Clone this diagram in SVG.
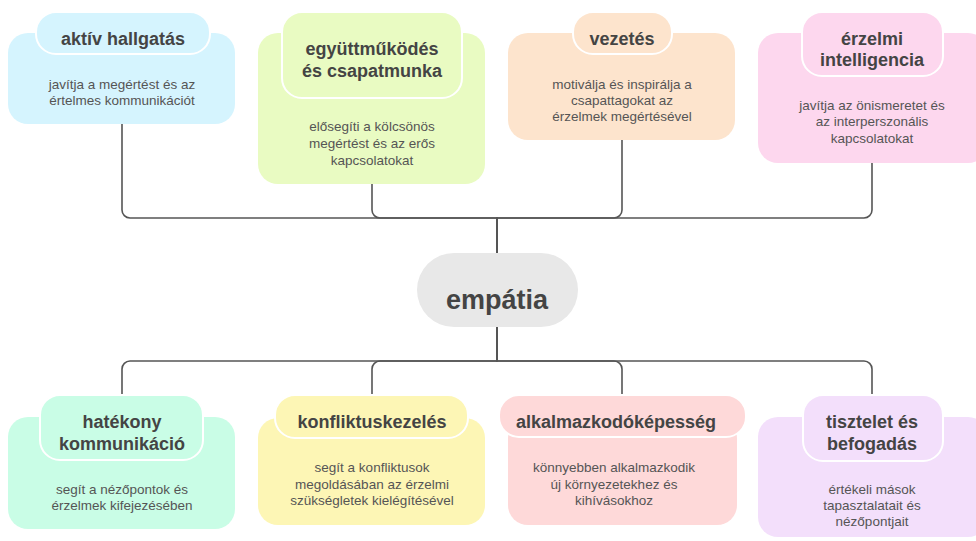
<svg xmlns="http://www.w3.org/2000/svg" width="976" height="541" viewBox="0 0 976 541">
<style>
.t{font-family:"Liberation Sans",Arial,sans-serif;font-weight:700;font-size:18px;fill:#444;text-anchor:middle}
.b{font-family:"Liberation Sans",Arial,sans-serif;font-size:13.5px;fill:#555;text-anchor:middle}
.c{font-family:"Liberation Sans",Arial,sans-serif;font-weight:700;font-size:27px;fill:#444;text-anchor:middle}
.p{stroke:#fff;stroke-width:2}
.ln{fill:none;stroke:#555;stroke-width:1.6}
</style>
<rect width="976" height="541" fill="#fff"/>
<g id="connectors">
<path class="ln" d="M497,253 V218 H130 A8,8 0 0 1 122,210 V124"/>
<path class="ln" d="M497,253 V218 H380 A8,8 0 0 1 372,210 V184"/>
<path class="ln" d="M497,253 V218 H614 A8,8 0 0 0 622,210 V140"/>
<path class="ln" d="M497,253 V218 H864 A8,8 0 0 0 872,210 V163"/>
<path class="ln" d="M497,327 V361 H130 A8,8 0 0 0 122,369 V396"/>
<path class="ln" d="M497,327 V361 H380 A8,8 0 0 0 372,369 V396"/>
<path class="ln" d="M497,327 V361 H614 A8,8 0 0 1 622,369 V396"/>
<path class="ln" d="M497,327 V361 H864 A8,8 0 0 1 872,369 V396"/>
</g>
<g id="center">
<rect x="417" y="253" width="161" height="74" rx="37" fill="#e8e8e8"/>
<text class="c" x="497" y="309">empátia</text>
</g>
<g id="aktiv-hallgatas">
<rect x="8" y="33" width="227" height="91" rx="20" fill="#d5f4fe"/>
<rect class="p" x="36" y="12" width="174" height="42" rx="20" fill="#d5f4fe"/>
<text class="t" x="123" y="45">aktív hallgatás</text>
<text class="b" x="122" y="89">javítja a megértést és az</text>
<text class="b" x="122" y="105">értelmes kommunikációt</text>
</g>
<g id="egyuttmukodes">
<rect x="258" y="33" width="227" height="151" rx="20" fill="#e9fbc2"/>
<rect class="p" x="282" y="12" width="180" height="86" rx="20" fill="#e9fbc2"/>
<text class="t" x="372" y="55">együttműködés</text>
<text class="t" x="372" y="77">és csapatmunka</text>
<text class="b" x="372" y="131">elősegíti a kölcsönös</text>
<text class="b" x="372" y="148">megértést és az erős</text>
<text class="b" x="372" y="165">kapcsolatokat</text>
</g>
<g id="vezetes">
<rect x="508" y="33" width="227" height="107" rx="20" fill="#fde4cd"/>
<rect class="p" x="573" y="12" width="99" height="42" rx="20" fill="#fde4cd"/>
<text class="t" x="622" y="45">vezetés</text>
<text class="b" x="622" y="89">motiválja és inspirálja a</text>
<text class="b" x="622" y="105">csapattagokat az</text>
<text class="b" x="622" y="121">érzelmek megértésével</text>
</g>
<g id="erzelmi-intelligencia">
<rect x="758" y="33" width="230" height="130" rx="20" fill="#fdd7ee"/>
<rect class="p" x="802" y="12" width="141" height="64" rx="20" fill="#fdd7ee"/>
<text class="t" x="872" y="45">érzelmi</text>
<text class="t" x="872" y="66">intelligencia</text>
<text class="b" x="872" y="110">javítja az önismeretet és</text>
<text class="b" x="872" y="126">az interperszonális</text>
<text class="b" x="872" y="143">kapcsolatokat</text>
</g>
<g id="hatekony-kommunikacio">
<rect x="8" y="417" width="227" height="112" rx="20" fill="#c9fde6"/>
<rect class="p" x="40" y="395" width="163" height="65" rx="20" fill="#c9fde6"/>
<text class="t" x="122" y="428">hatékony</text>
<text class="t" x="122" y="450">kommunikáció</text>
<text class="b" x="122" y="494">segít a nézőpontok és</text>
<text class="b" x="122" y="510">érzelmek kifejezésében</text>
</g>
<g id="konfliktuskezeles">
<rect x="258" y="418" width="227" height="107" rx="20" fill="#fdf6b5"/>
<rect class="p" x="275" y="395" width="193" height="43" rx="20" fill="#fdf6b5"/>
<text class="t" x="372" y="428">konfliktuskezelés</text>
<text class="b" x="372" y="472">segít a konfliktusok</text>
<text class="b" x="372" y="489">megoldásában az érzelmi</text>
<text class="b" x="372" y="505">szükségletek kielégítésével</text>
</g>
<g id="alkalmazkodokepesseg">
<rect x="508" y="418" width="229" height="107" rx="20" fill="#fed9d9"/>
<rect class="p" x="499" y="395" width="247" height="42" rx="20" fill="#fed9d9"/>
<text class="t" x="616" y="428">alkalmazkodóképesség</text>
<text class="b" x="614" y="472">könnyebben alkalmazkodik</text>
<text class="b" x="614" y="489">új környezetekhez és</text>
<text class="b" x="614" y="505">kihívásokhoz</text>
</g>
<g id="tisztelet-es-befogadas">
<rect x="758" y="417" width="230" height="120" rx="20" fill="#f3dffb"/>
<rect class="p" x="803" y="395" width="140" height="66" rx="20" fill="#f3dffb"/>
<text class="t" x="872" y="428">tisztelet és</text>
<text class="t" x="872" y="450">befogadás</text>
<text class="b" x="872" y="494">értékeli mások</text>
<text class="b" x="872" y="510">tapasztalatait és</text>
<text class="b" x="872" y="526">nézőpontjait</text>
</g>
</svg>
